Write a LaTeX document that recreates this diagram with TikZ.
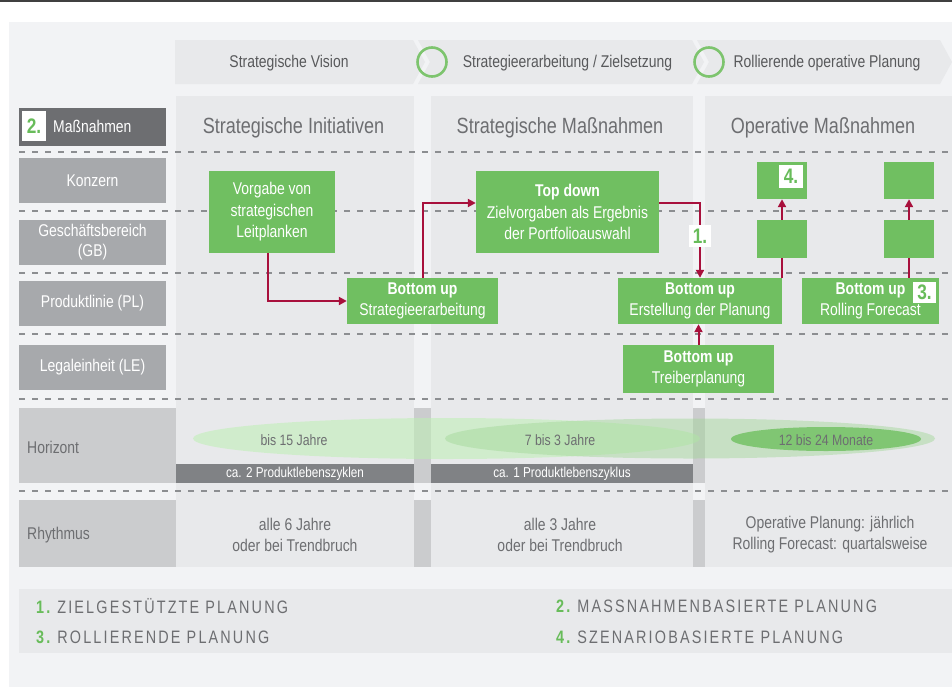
\documentclass[tikz,border=0pt]{standalone}
\usepackage{fontspec}
\setmainfont{Liberation Sans}[FakeStretch=0.82]
\newfontfamily\legendfont{Liberation Sans}[FakeStretch=0.8,LetterSpace=12]
\usetikzlibrary{arrows.meta}
\definecolor{bgpanel}{HTML}{F2F3F5}
\definecolor{colgray}{HTML}{E8E9EB}
\definecolor{labgray}{HTML}{A7A9AC}
\definecolor{darklab}{HTML}{6D6E71}
\definecolor{horgray}{HTML}{CBCCCE}
\definecolor{bargray}{HTML}{808285}
\definecolor{txtgray}{HTML}{6D6E71}
\definecolor{hdtxt}{HTML}{58595B}
\definecolor{boxgreen}{RGB}{112,191,97}
\definecolor{numgreen}{RGB}{104,188,90}
\definecolor{ringgreen}{RGB}{125,196,110}
\definecolor{arrred}{RGB}{168,16,60}
\definecolor{dashgray}{RGB}{140,142,145}
\definecolor{ellA}{RGB}{190,240,180}
\definecolor{ellB}{RGB}{160,215,150}
\definecolor{ellC}{RGB}{128,198,115}
\newcommand\fsz[2]{\fontsize{#1}{#2}\selectfont}
\begin{document}
\begin{tikzpicture}[x=1pt,y=-1pt,
  gbox/.style={fill=boxgreen, text=white, inner sep=0pt, align=center, font=\fsz{17}{21.5}},
  rowlab/.style={fill=labgray, text=white, inner sep=0pt, align=center, minimum width=147pt, minimum height=45pt, font=\fsz{17}{20}},
  numlab/.style={fill=white, text=numgreen, inner sep=0pt, font=\bfseries\fsz{21}{21}},
  coltitle/.style={text=txtgray, inner sep=0pt, font=\fsz{22}{24}},
  hdtext/.style={text=hdtxt, inner sep=0pt, font=\fsz{17}{20}},
  graytext/.style={text=txtgray, inner sep=0pt, align=center, font=\fsz{17}{21}},
  elltext/.style={text=txtgray, inner sep=0pt, font=\fsz{15}{16}},
  bartext/.style={fill=bargray, text=white, inner sep=0pt, font=\fsz{14.3}{16}},
  legtext/.style={text=txtgray, inner sep=0pt, anchor=west, font=\legendfont\fsz{18}{20}},
  dline/.style={draw=dashgray, line width=1.2pt, dash pattern=on 6pt off 7pt},
  conn/.style={draw=arrred, line width=2pt},
  arr/.style={conn, -{Triangle[length=8pt,width=8pt]}},
  chev/.style={fill=colgray},
  ring/.style={draw=ringgreen, line width=2.6pt}
]
\useasboundingbox (0,0) rectangle (952,696);
\fill[white] (0,0) rectangle (952,696);
\fill[black!75] (0,0) rectangle (952,2.2);
\fill[bgpanel] (9,22) rectangle (952,687);

% header chevrons
\fill[chev] (175,40) -- (413,40) -- (425,62) -- (413,84) -- (175,84) -- cycle;
\fill[chev] (418,40) -- (692,40) -- (704,62) -- (692,84) -- (418,84) -- (430,62) -- cycle;
\fill[chev] (697,40) -- (940,40) -- (952,62) -- (940,84) -- (697,84) -- (709,62) -- cycle;
\draw[ring] (432,62) circle [radius=14.5pt];
\draw[ring] (709,62) circle [radius=14.5pt];
\node[hdtext] (h1) at (289,63) {Strategische Vision};
\node[hdtext] (h2) at (567.5,63) {Strategieerarbeitung / Zielsetzung};
\node[hdtext] (h3) at (827,63) {Rollierende operative Planung};

% columns
\fill[colgray] (176,96) rectangle (414,567);
\fill[colgray] (431,96) rectangle (693,567);
\fill[colgray] (705,96) rectangle (952,567);
\fill[horgray] (19,408) rectangle (176,483);
\fill[horgray] (19,500) rectangle (176,567);
\fill[horgray] (414,408) rectangle (431,483);
\fill[horgray] (693,408) rectangle (705,483);
\fill[horgray] (414,500) rectangle (431,567);
\fill[horgray] (693,500) rectangle (705,567);

% dashed separators
\foreach \yy in {152,211,273,334,399,491} \draw[dline] (19,\yy) -- (952,\yy);

% column titles
\node[coltitle] (t1) at (293.5,128) {Strategische Initiativen};
\node[coltitle] (t2) at (560,128) {Strategische Maßnahmen};
\node[coltitle] (t3) at (823,128) {Operative Maßnahmen};

% left labels
\node[fill=darklab, minimum width=147pt, minimum height=38pt, inner sep=0pt] (mbox) at (92.5,127) {};
\node[numlab, minimum width=24pt, minimum height=30pt] (n2) at (34,126) {2.};
\node[text=white, inner sep=0pt, anchor=west, font=\fsz{17}{20}] (mtext) at (53,126) {Maßnahmen};
\node[rowlab] (konz) at (92.5,180.5) {Konzern};
\node[rowlab] (gb) at (92.5,242.5) {Geschäftsbereich\\(GB)};
\node[rowlab] (pl) at (92.5,303.5) {Produktlinie (PL)};
\node[rowlab] (le) at (92.5,367.5) {Legaleinheit (LE)};
\node[text=txtgray, inner sep=0pt, anchor=west, font=\fsz{17}{20}] (hor) at (27,447) {Horizont};
\node[text=txtgray, inner sep=0pt, anchor=west, font=\fsz{17}{20}] (rhy) at (27,535) {Rhythmus};

% horizon ellipses
\fill[ellA, fill opacity=0.55] (446.5,438.5) ellipse [x radius=253.5pt, y radius=20.5pt];
\fill[ellB, fill opacity=0.45] (690,438.5) ellipse [x radius=245pt, y radius=20pt];
\fill[ellC] (826,439) ellipse [x radius=95pt, y radius=12pt];
\node[elltext] (e1) at (294,440) {bis 15 Jahre};
\node[elltext] (e2) at (560,440) {7 bis 3 Jahre};
\node[elltext] (e3) at (826,440) {12 bis 24 Monate};
\node[bartext, minimum width=238pt, minimum height=19pt] (b1) at (295,473.5) {ca. 2 Produktlebenszyklen};
\node[bartext, minimum width=262pt, minimum height=19pt] (b2) at (562,473.5) {ca. 1 Produktlebenszyklus};

% rhythm
\node[graytext] (r1) at (295,534.5) {alle 6 Jahre\\oder bei Trendbruch};
\node[graytext] (r2) at (560,534.5) {alle 3 Jahre\\oder bei Trendbruch};
\node[graytext] (r3) at (830,534.5) {Operative Planung: jährlich\\Rolling Forecast: quartalsweise};

% green boxes
\node[gbox, minimum width=126pt, minimum height=82pt] (vorg) at (272,212) {Vorgabe von\\strategischen\\Leitplanken};
\node[gbox, minimum width=151pt, minimum height=46pt] (strat) at (422.5,301) {\textbf{Bottom up}\\Strategieerarbeitung};
\node[gbox, minimum width=183pt, minimum height=82pt] (top) at (567.5,212) {\textbf{Top down}\\Zielvorgaben als Ergebnis\\der Portfolioauswahl};
\node[gbox, minimum width=164pt, minimum height=46pt] (erst) at (700,301) {\textbf{Bottom up}\\Erstellung der Planung};
\node[gbox, minimum width=151pt, minimum height=48pt] (treib) at (698.5,369) {\textbf{Bottom up}\\Treiberplanung};
\node[gbox, minimum width=137pt, minimum height=46pt] (roll) at (870.5,301) {\textbf{Bottom up}\\Rolling Forecast};
\node[gbox, minimum width=50pt, minimum height=37pt] (k4) at (782,180.5) {};
\node[gbox, minimum width=50pt, minimum height=38pt] (g4) at (782,239) {};
\node[gbox, minimum width=50pt, minimum height=37pt] (k3) at (909,180.5) {};
\node[gbox, minimum width=50pt, minimum height=38pt] (g3) at (909,239) {};

% connectors
\draw[arr] ([xshift=-4pt]vorg.south) |- (strat.west);
\draw[arr] (strat.north) |- ([yshift=9pt]top.west);
\draw[arr] ([yshift=9pt]top.east) -| (erst.north);
\draw[arr] (treib.north) -- (treib.north |- erst.south);
\draw[conn] (g4.south) -- (g4.south |- erst.north);
\draw[arr] (g4.north) -- (k4.south);
\draw[conn] (g3.south) -- (g3.south |- roll.north);
\draw[arr] (g3.north) -- (k3.south);

% number labels
\node[numlab, minimum width=22pt, minimum height=22pt] (n1) at (700,236) {1.};
\node[numlab, minimum width=24pt, minimum height=23pt] (n4) at (791,176.5) {4.};
\node[numlab, minimum width=23pt, minimum height=21pt] (n3) at (924.5,292.5) {3.};

% legend
\fill[colgray] (19,589) rectangle (952,653);
\node[legtext] (l1) at (36,606) {\textcolor{numgreen}{\bfseries 1.}\hspace{7pt}ZIELGESTÜTZTE PLANUNG};
\node[legtext] (l3) at (36,637) {\textcolor{numgreen}{\bfseries 3.}\hspace{7pt}ROLLIERENDE PLANUNG};
\node[legtext] (l2) at (556,606) {\textcolor{numgreen}{\bfseries 2.}\hspace{7pt}MASSNAHMENBASIERTE PLANUNG};
\node[legtext] (l4) at (556,637) {\textcolor{numgreen}{\bfseries 4.}\hspace{7pt}SZENARIOBASIERTE PLANUNG};
\end{tikzpicture}
\end{document}
